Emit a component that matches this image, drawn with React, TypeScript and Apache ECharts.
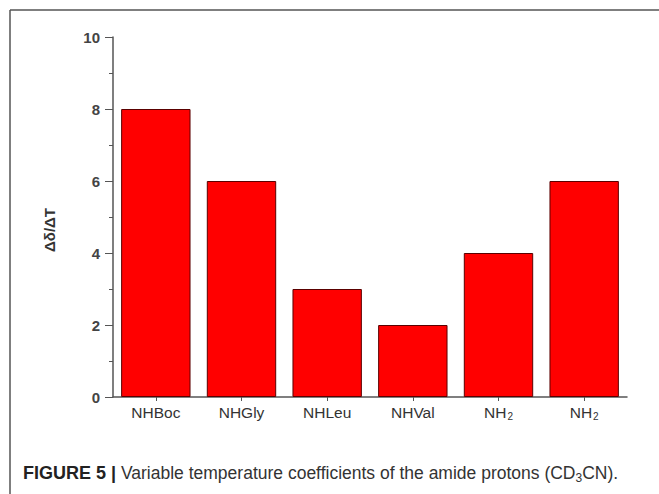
import React, { useEffect, useRef } from "react";
import * as echarts from "echarts";

const categories = ["NHBoc", "NHGly", "NHLeu", "NHVal", "NH{sub|2}", "NH{sub|2}"];
const values = [8, 6, 3, 2, 4, 6];
const yMin = 0;
const yMax = 10;
const yInterval = 2;
const yAxisName = "Δδ/ΔT";
const captionBold = "FIGURE 5 |";
const captionText = " Variable temperature coefficients of the amide protons (CD{sub|3}CN).";

const FONT = "Liberation Sans, Arial, sans-serif";

export default function App() {
  const ref = useRef<HTMLDivElement>(null);
  useEffect(() => {
    if (!ref.current) return;
    const chart = echarts.init(ref.current, null, { renderer: "svg" });
    chart.setOption({
      animation: false,
      backgroundColor: "#ffffff",
      grid: { left: 113, top: 37, right: 32, bottom: 97, containLabel: false },
      xAxis: {
        type: "category",
        data: categories,
        boundaryGap: true,
        axisLine: { lineStyle: { color: "#555", width: 1.5 } },
        axisTick: { show: true, alignWithLabel: true, interval: 0, length: 4, lineStyle: { color: "#555" } },
        axisLabel: {
          interval: 0,
          hideOverlap: false,
          color: "#333",
          fontFamily: FONT,
          fontSize: 15.5,
          lineHeight: 18,
          margin: 6,
          rich: {
            sub: { fontSize: 10, lineHeight: 10, verticalAlign: "bottom", color: "#333", fontFamily: FONT, padding: [0, 0, 0, 1] },
          },
        },
      },
      yAxis: {
        type: "value",
        min: yMin,
        max: yMax,
        interval: yInterval,
        name: yAxisName,
        nameLocation: "middle",
        nameGap: 56,
        nameRotate: 90,
        nameTextStyle: {
          color: "#333",
          fontSize: 15,
          fontWeight: "bold",
          fontFamily: FONT,
          padding: [0, 26, 0, 0],
        },
        axisLine: { show: true, lineStyle: { color: "#555", width: 1.5 } },
        axisTick: { show: true, length: 8, lineStyle: { color: "#555" } },
        minorTick: { show: true, splitNumber: 2, length: 4, lineStyle: { color: "#555" } },
        splitLine: { show: false },
        axisLabel: {
          color: "#444",
          fontSize: 15,
          fontWeight: "bold",
          fontFamily: FONT,
          margin: 13,
        },
      },
      series: [
        {
          type: "bar",
          data: values,
          barCategoryGap: "19%",
          itemStyle: { color: "#ff0000", borderColor: "#5a0000", borderWidth: 1 },
        },
      ],
      graphic: [
        { type: "line", shape: { x1: 10, y1: 10, x2: 659, y2: 10 }, style: { stroke: "#555", lineWidth: 1.5 } },
        { type: "line", shape: { x1: 10, y1: 10, x2: 10, y2: 494 }, style: { stroke: "#555", lineWidth: 1.5 } },
        {
          type: "text",
          left: 23,
          top: 464,
          style: {
            text: "{b|" + captionBold + "}{r|" + captionText.replace("{sub|3}", "}{sub|3}{r|") + "}",
            rich: {
              b: { fontSize: 18, fontWeight: "bold", fill: "#222", fontFamily: FONT },
              r: { fontSize: 17.5, fill: "#333", fontFamily: FONT },
              sub: { fontSize: 12, fill: "#333", padding: [9, 0, 0, 0], fontFamily: FONT },
            },
          },
        },
      ],
    });
    return () => chart.dispose();
  }, []);
  return (
    <div style={{ position: "fixed", left: 0, top: 0, width: 659, height: 494 }}>
      <div ref={ref} style={{ width: 659, height: 494 }} />
    </div>
  );
}
